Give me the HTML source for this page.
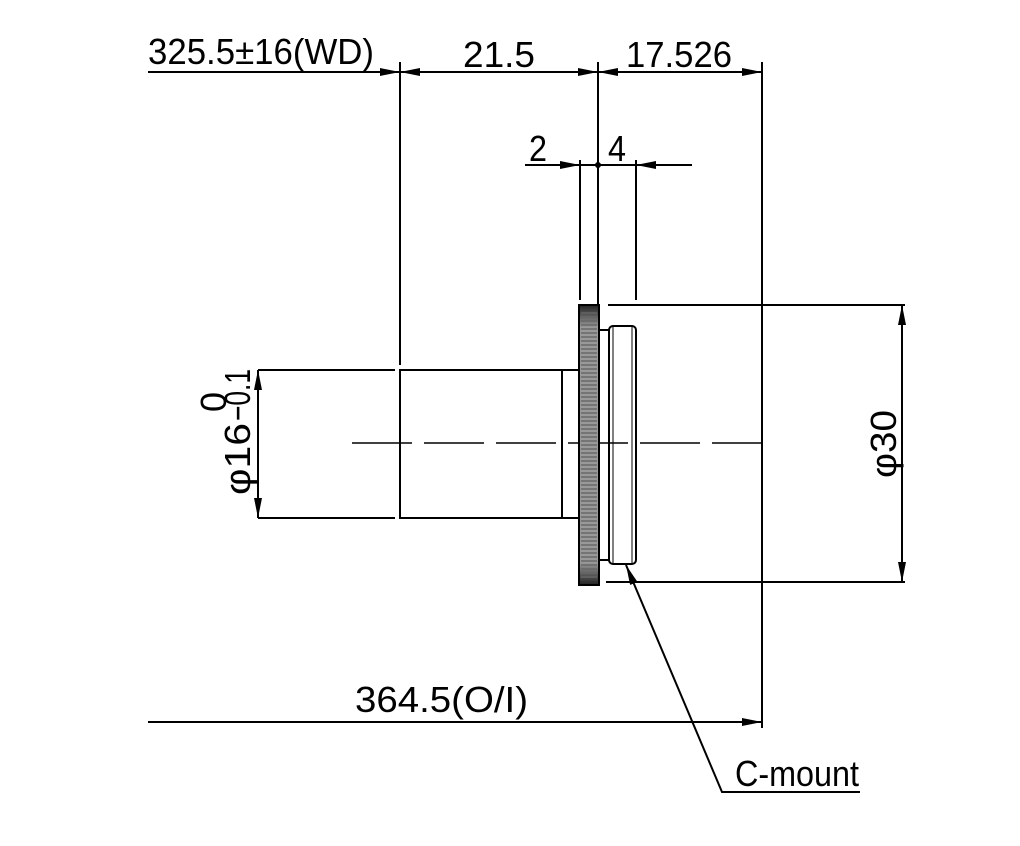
<!DOCTYPE html>
<html><head><meta charset="utf-8"><style>
html,body{margin:0;padding:0;background:#fff;}
svg{display:block;}
text{font-family:"Liberation Sans","Noto Sans CJK JP",sans-serif;fill:#000;font-size:36px;}
</style></head><body>
<svg width="1020" height="846" viewBox="0 0 1020 846" xmlns="http://www.w3.org/2000/svg">
<defs>
<marker id="a" viewBox="0 0 20 8" refX="20" refY="4" markerWidth="20" markerHeight="8" orient="auto" markerUnits="userSpaceOnUse"><path d="M0,0 L20,4 L0,8 z" fill="#000"/></marker>
<linearGradient id="g" x1="0" y1="0" x2="0" y2="1">
<stop offset="0" stop-color="#222"/><stop offset="0.08" stop-color="#999"/><stop offset="0.92" stop-color="#999"/><stop offset="1" stop-color="#222"/>
</linearGradient>
<pattern id="k" width="4" height="4" patternUnits="userSpaceOnUse"><rect width="4" height="2" fill="#666"/></pattern>
</defs>
<g stroke="#000" stroke-width="2" fill="none">
<line x1="148" y1="72" x2="400" y2="72" marker-end="url(#a)"/>
<line x1="500" y1="72" x2="400" y2="72" marker-end="url(#a)"/>
<line x1="500" y1="72" x2="598" y2="72" marker-end="url(#a)"/>
<line x1="680" y1="72" x2="598" y2="72" marker-end="url(#a)"/>
<line x1="680" y1="72" x2="762" y2="72" marker-end="url(#a)"/>
<line x1="400" y1="62" x2="400" y2="365"/>
<line x1="598" y1="62" x2="598" y2="305"/>
<line x1="762" y1="62" x2="762" y2="728"/>
<line x1="525" y1="165" x2="580" y2="165" marker-end="url(#a)"/>
<line x1="692" y1="165" x2="636" y2="165" marker-end="url(#a)"/>
<line x1="580" y1="165" x2="636" y2="165"/>
<line x1="580" y1="160" x2="580" y2="300"/>
<line x1="636" y1="160" x2="636" y2="300"/>
<line x1="352" y1="443" x2="762" y2="443" stroke-dasharray="60,12" stroke-width="1.5"/>
<rect x="400" y="370" width="162" height="148"/>
<rect x="562" y="370" width="18" height="148"/>
<rect x="599" y="330" width="10" height="230"/>
<rect x="609" y="326" width="27" height="238" rx="4"/>
<line x1="613" y1="326" x2="613" y2="564" stroke-width="1"/>
<line x1="632" y1="326" x2="632" y2="564" stroke-width="1"/>
<line x1="608" y1="305" x2="905" y2="305"/>
<line x1="606" y1="582" x2="905" y2="582"/>
<line x1="902" y1="443" x2="902" y2="305" marker-end="url(#a)"/>
<line x1="902" y1="443" x2="902" y2="582" marker-end="url(#a)"/>
<line x1="258" y1="370" x2="395" y2="370"/>
<line x1="258" y1="518" x2="395" y2="518"/>
<line x1="258" y1="443" x2="258" y2="370" marker-end="url(#a)"/>
<line x1="258" y1="443" x2="258" y2="518" marker-end="url(#a)"/>
<line x1="148" y1="722" x2="762" y2="722" marker-end="url(#a)"/>
<polyline points="860,792 722,792 626,565" marker-end="url(#a)"/>
</g>
<rect x="579" y="305" width="20" height="280" fill="url(#g)" stroke="#000" stroke-width="2"/>
<rect x="581" y="312" width="16" height="266" fill="url(#k)" opacity="0.7"/>
<circle cx="598" cy="165" r="3" fill="#000"/>
<text x="148" y="64" textLength="226" lengthAdjust="spacingAndGlyphs">325.5±16(WD)</text>
<text x="463" y="67" textLength="72" lengthAdjust="spacingAndGlyphs">21.5</text>
<text x="626" y="67" textLength="106" lengthAdjust="spacingAndGlyphs">17.526</text>
<text x="529" y="161" textLength="18" lengthAdjust="spacingAndGlyphs">2</text>
<text x="608" y="161" textLength="18" lengthAdjust="spacingAndGlyphs">4</text>
<text x="355" y="712" textLength="173" lengthAdjust="spacingAndGlyphs">364.5(O/I)</text>
<text x="735" y="786" textLength="124" lengthAdjust="spacingAndGlyphs">C-mount</text>
<text transform="translate(896,478) rotate(-90)" textLength="68" lengthAdjust="spacingAndGlyphs">φ30</text>
<g transform="translate(250,495) rotate(-90)">
<text x="0" y="0" font-size="34" textLength="72" lengthAdjust="spacingAndGlyphs">φ16</text>
<text x="74" y="0" font-size="24" textLength="52" lengthAdjust="spacingAndGlyphs">−0.1</text>
<text x="83" y="-24" font-size="22">0</text>
</g>
</svg>
</body></html>
